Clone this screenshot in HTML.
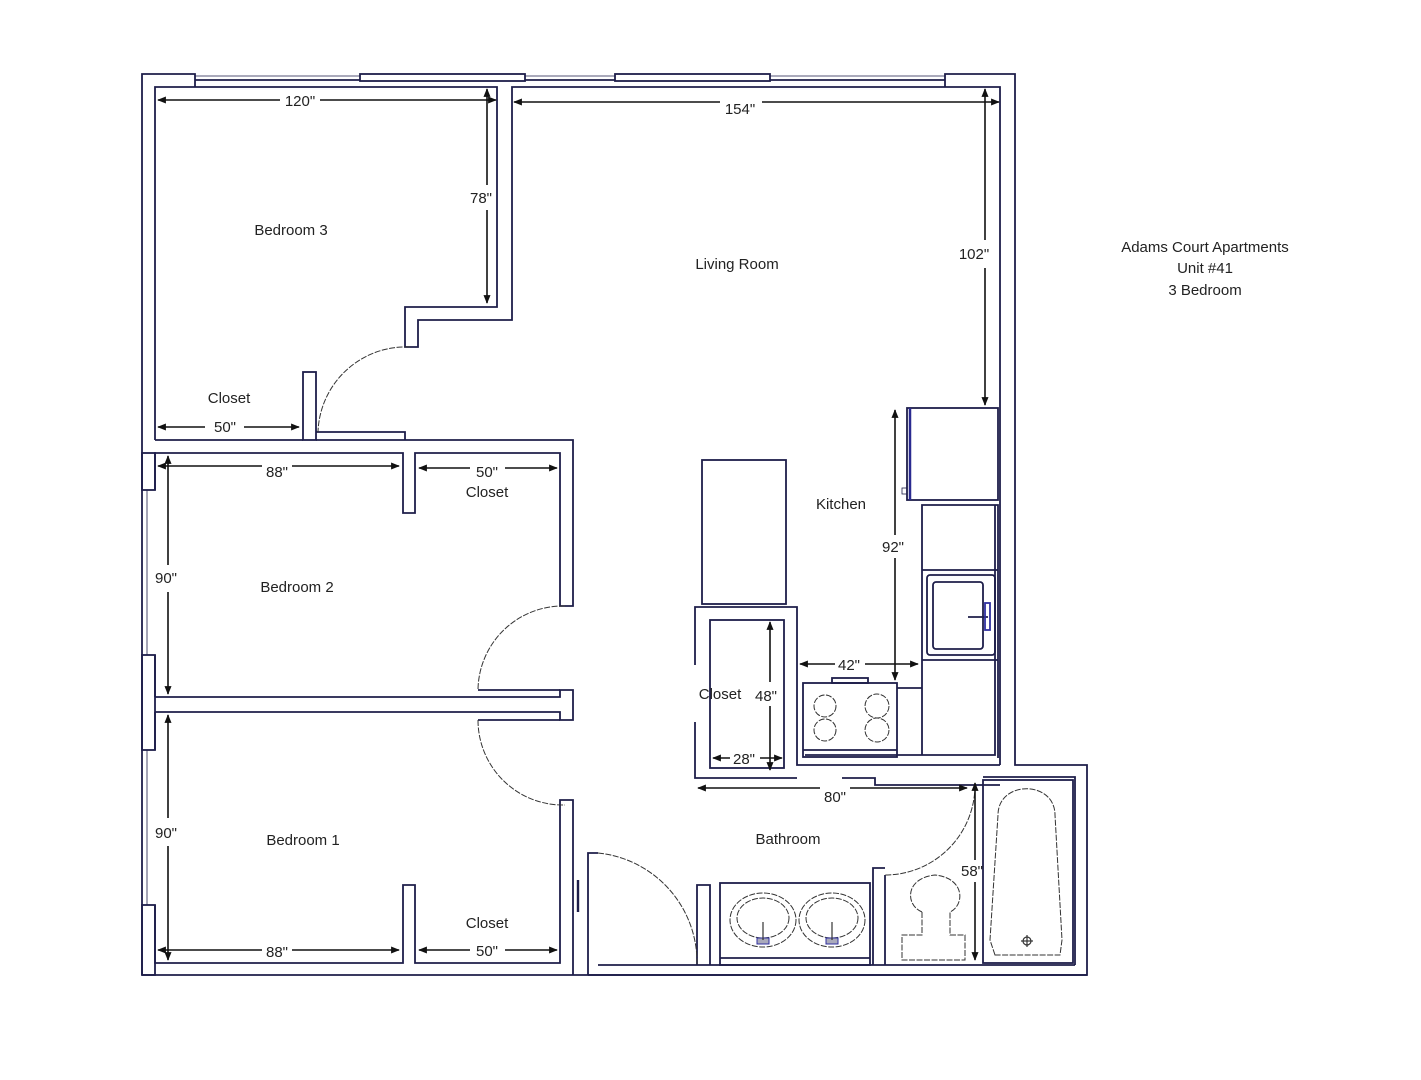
<!DOCTYPE html>
<html><head><meta charset="utf-8"><style>
html,body{margin:0;padding:0;background:#fff;width:1421px;height:1080px;overflow:hidden}
svg{display:block}
text{font-family:"Liberation Sans",Arial,sans-serif;font-size:15px;fill:#222}
</style></head><body>
<svg width="1421" height="1080" viewBox="0 0 1421 1080" xmlns="http://www.w3.org/2000/svg">
<defs>
<marker id="a" viewBox="0 0 10 10" refX="9" refY="5" markerWidth="5.5" markerHeight="5.5" orient="auto-start-reverse"><path d="M0,1 L10,5 L0,9 z" fill="#111"/></marker>
</defs>
<g fill="none" stroke="#1e1e4a" stroke-width="1.8">
<polyline points="142,975 142,74 195,74 195,87"/>
<polyline points="195,80 360,80"/><polyline points="195,76 360,76" stroke-width="0.8"/>
<rect x="360" y="74" width="165" height="7"/>
<polyline points="525,80 615,80"/><polyline points="525,76 615,76" stroke-width="0.8"/>
<rect x="615" y="74" width="155" height="7"/>
<polyline points="770,80 945,80"/><polyline points="770,76 945,76" stroke-width="0.8"/>
<polyline points="945,87 945,74 1015,74 1015,765 1087,765 1087,975 142,975"/>
<polyline points="155,440 155,87 497,87 497,307 405,307 405,347 418,347 418,320 512,320 512,87 1000,87 1000,765"/>
<rect x="303" y="372" width="13" height="68"/>
<polyline points="155,440 303,440"/>
<polyline points="316,432 405,432 405,440"/>
<polyline points="316,440 573,440 573,606 560,606 560,453 415,453 415,513 403,513 403,453 155,453 155,490"/>
<line x1="147" y1="490" x2="147" y2="655" stroke-width="0.8"/>
<rect x="142" y="655" width="13" height="95"/>
<line x1="147" y1="750" x2="147" y2="905" stroke-width="0.8"/>
<rect x="142" y="905" width="13" height="70"/>
<rect x="142" y="453" width="13" height="37"/>
<polyline points="155,697 560,697 560,690 573,690 573,720 560,720 560,712 155,712"/>
<polyline points="155,697 155,655"/><polyline points="155,712 155,750"/>
<polyline points="478,690 560,690"/><polyline points="478,720 560,720"/>
<polyline points="155,905 155,963 403,963 403,885 415,885 415,963 560,963 560,800 573,800 573,975"/>
<polyline points="588,975 588,853 598,853"/>
<line x1="578" y1="880" x2="578" y2="912" stroke-width="2.4"/>
<rect x="702" y="460" width="84" height="144"/>
<polyline points="695,665 695,607 797,607 797,765 1000,765"/>
<rect x="710" y="620" width="74" height="148"/>
<polyline points="695,722 695,778 797,778"/>
<polyline points="842,778 875,778 875,785 1000,785"/>
<rect x="907" y="408" width="91" height="92"/>
<line x1="910" y1="408" x2="910" y2="500" stroke="#2a2a90" stroke-width="2.5"/>
<rect x="902" y="488" width="5" height="6" stroke-width="0.8"/>
<polyline points="922,755 922,505 998,505 998,758"/>
<polyline points="995,505 995,755 805,755"/>
<line x1="922" y1="570" x2="998" y2="570"/>
<line x1="922" y1="660" x2="998" y2="660"/>
<polyline points="897,688 922,688"/>
<rect x="927" y="575" width="68" height="80" rx="3"/>
<rect x="933" y="582" width="50" height="67" rx="3"/>
<line x1="968" y1="617" x2="988" y2="617"/>
<rect x="985" y="603" width="5" height="27" stroke="#3030a0"/>
<rect x="803" y="683" width="94" height="74"/>
<rect x="832" y="678" width="36" height="5"/>
<line x1="803" y1="750" x2="897" y2="750"/>
<rect x="983" y="780" width="90" height="183"/>
<polyline points="885,965 885,875"/><polyline points="873,965 873,868 885,868"/>
<polyline points="1075,965 1075,777 983,777"/>
<polyline points="697,965 697,885 710,885 710,965"/>
<rect x="720" y="883" width="150" height="82"/>
<line x1="720" y1="958" x2="870" y2="958"/>
<line x1="598" y1="965" x2="1075" y2="965"/>
<line x1="588" y1="975" x2="1087" y2="975"/>
</g>
<g fill="none" stroke="#333" stroke-width="1" stroke-dasharray="6,1.5">
<path d="M410,347 A88,88 0 0 0 318,432"/>
<path d="M565,606 A85,85 0 0 0 478,690"/>
<path d="M478,720 A85,85 0 0 0 565,805"/>
<path d="M598,853 A110,110 0 0 1 697,965"/>
<path d="M975,785 A90,90 0 0 1 885,875"/>
<circle cx="825" cy="706" r="11"/><circle cx="825" cy="730" r="11"/>
<circle cx="877" cy="706" r="12"/><circle cx="877" cy="730" r="12"/>
<ellipse cx="763" cy="920" rx="33" ry="27"/><ellipse cx="763" cy="918" rx="26" ry="20"/>
<ellipse cx="832" cy="920" rx="33" ry="27"/><ellipse cx="832" cy="918" rx="26" ry="20"/>
<path d="M922,912 C905,905 905,878 935,875 C965,878 965,905 950,912 L950,935 L965,935 L965,960 L902,960 L902,935 L922,935 Z"/>
<path d="M995,955 L990,940 L998,815 C998,780 1055,780 1055,815 L1062,940 L1060,955 Z"/>
</g>
<g stroke="#3030a0" fill="#aab" stroke-width="1">
<rect x="757" y="938" width="12" height="6"/><rect x="826" y="938" width="12" height="6"/>
</g>
<g stroke="#333" stroke-width="1.2"><line x1="763" y1="922" x2="763" y2="940"/><line x1="832" y1="922" x2="832" y2="940"/>
<circle cx="1027" cy="941" r="4" fill="none"/><line x1="1021" y1="941" x2="1033" y2="941"/><line x1="1027" y1="935" x2="1027" y2="947"/></g>
<g stroke="#111" stroke-width="1.6" marker-start="url(#a)" marker-end="url(#a)">
<line x1="158" y1="100" x2="280" y2="100" marker-end="none"/><line x1="320" y1="100" x2="496" y2="100" marker-start="none"/>
<line x1="487" y1="89" x2="487" y2="185" marker-end="none"/><line x1="487" y1="210" x2="487" y2="303" marker-start="none"/>
<line x1="514" y1="102" x2="720" y2="102" marker-end="none"/><line x1="762" y1="102" x2="999" y2="102" marker-start="none"/>
<line x1="985" y1="89" x2="985" y2="240" marker-end="none"/><line x1="985" y1="268" x2="985" y2="405" marker-start="none"/>
<line x1="158" y1="427" x2="205" y2="427" marker-end="none"/><line x1="244" y1="427" x2="299" y2="427" marker-start="none"/>
<line x1="158" y1="466" x2="262" y2="466" marker-end="none"/><line x1="292" y1="466" x2="399" y2="466" marker-start="none"/>
<line x1="419" y1="468" x2="470" y2="468" marker-end="none"/><line x1="505" y1="468" x2="557" y2="468" marker-start="none"/>
<line x1="168" y1="456" x2="168" y2="565" marker-end="none"/><line x1="168" y1="592" x2="168" y2="694" marker-start="none"/>
<line x1="168" y1="715" x2="168" y2="818" marker-end="none"/><line x1="168" y1="846" x2="168" y2="960" marker-start="none"/>
<line x1="158" y1="950" x2="262" y2="950" marker-end="none"/><line x1="292" y1="950" x2="399" y2="950" marker-start="none"/>
<line x1="419" y1="950" x2="470" y2="950" marker-end="none"/><line x1="505" y1="950" x2="557" y2="950" marker-start="none"/>
<line x1="895" y1="410" x2="895" y2="535" marker-end="none"/><line x1="895" y1="558" x2="895" y2="680" marker-start="none"/>
<line x1="800" y1="664" x2="835" y2="664" marker-end="none"/><line x1="865" y1="664" x2="918" y2="664" marker-start="none"/>
<line x1="770" y1="622" x2="770" y2="682" marker-end="none"/><line x1="770" y1="706" x2="770" y2="770" marker-start="none"/>
<line x1="713" y1="758" x2="730" y2="758" marker-end="none"/><line x1="760" y1="758" x2="782" y2="758" marker-start="none"/>
<line x1="698" y1="788" x2="820" y2="788" marker-end="none"/><line x1="850" y1="788" x2="967" y2="788" marker-start="none"/>
<line x1="975" y1="783" x2="975" y2="860" marker-end="none"/><line x1="975" y1="882" x2="975" y2="960" marker-start="none"/>
</g>
<g text-anchor="middle">
<text x="300" y="106">120"</text>
<text x="481" y="203">78"</text>
<text x="740" y="114">154"</text>
<text x="974" y="259">102"</text>
<text x="291" y="235">Bedroom 3</text>
<text x="737" y="269">Living Room</text>
<text x="229" y="403">Closet</text>
<text x="225" y="432">50"</text>
<text x="277" y="477">88"</text>
<text x="487" y="477">50"</text>
<text x="487" y="497">Closet</text>
<text x="166" y="583">90"</text>
<text x="297" y="592">Bedroom 2</text>
<text x="166" y="838">90"</text>
<text x="303" y="845">Bedroom 1</text>
<text x="487" y="928">Closet</text>
<text x="277" y="957">88"</text>
<text x="487" y="956">50"</text>
<text x="841" y="509">Kitchen</text>
<text x="893" y="552">92"</text>
<text x="849" y="670">42"</text>
<text x="720" y="699">Closet</text>
<text x="766" y="701">48"</text>
<text x="744" y="764">28"</text>
<text x="835" y="802">80"</text>
<text x="788" y="844">Bathroom</text>
<text x="972" y="876">58"</text>
<text x="1205" y="252">Adams Court Apartments</text>
<text x="1205" y="273">Unit #41</text>
<text x="1205" y="295">3 Bedroom</text>
</g>
</svg>
</body></html>
